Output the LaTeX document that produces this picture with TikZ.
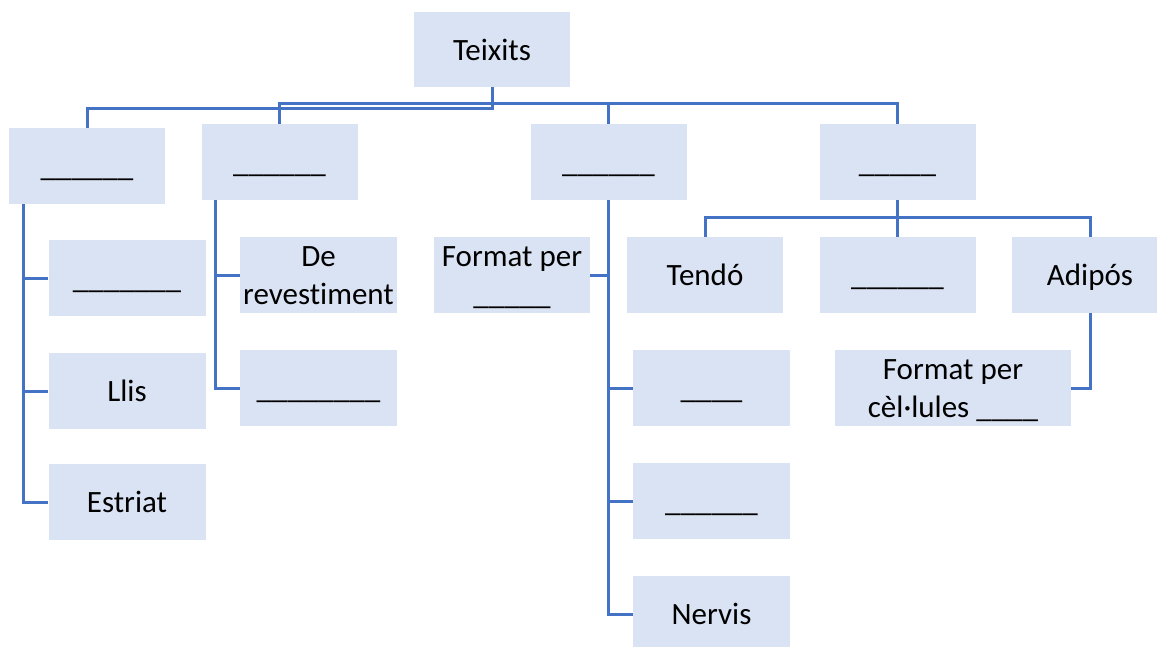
\documentclass[tikz,border=0pt]{standalone}
\usepackage{fontspec}
\setmainfont{Carlito}[Ligatures=NoCommon]

\newcommand{\wordfont}{\fontsize{31pt}{37.8pt}\selectfont}
\newcommand{\wordstrut}{\rule[-8.3pt]{0pt}{37.8pt}}
\definecolor{BoxBlue}{HTML}{DAE3F3}
\definecolor{LineBlue}{HTML}{4472C4}
\tikzstyle{tissue-box}=[rectangle, fill={BoxBlue}, inner sep=0pt, minimum width=157pt, minimum height=76pt,
  align=center, font=\wordfont, execute at begin node=\wordstrut, execute at end node=\wordstrut]
\tikzstyle{branch}=[draw={LineBlue}, line width=3pt]

\begin{document}
\begin{tikzpicture}
      \useasboundingbox (0pt, 0pt) rectangle (1157pt, -646pt);

      % top
      \node (box-teixits) at (492pt, -49.5pt) [tissue-box, minimum width=156pt, minimum height=75pt] {Teixits};

      % first level
      \node (box-a) at (87pt,    -166pt) [tissue-box, minimum width=156pt] {\_\_\_\_\_\_};
      \node (box-b) at (279.5pt, -162pt) [tissue-box, minimum width=156pt] {\_\_\_\_\_\_};
      \node (box-c) at (608.5pt, -162pt) [tissue-box, minimum width=156pt] {\_\_\_\_\_\_};
      \node (box-d) at (897.5pt, -162pt) [tissue-box, minimum width=156pt] {\_\_\_\_\_};

      % under a
      \node (box-a1) at (127pt, -278pt) [tissue-box] {\_\_\_\_\_\_\_};
      \node (box-a2) at (127pt, -391pt) [tissue-box] {Llis};
      \node (box-a3) at (127pt, -502pt) [tissue-box] {Estriat};

      % under b
      \node (box-b1) at (318.5pt, -275pt) [tissue-box] {\wordstrut De\\revestiment};
      \node (box-b2) at (318.5pt, -388pt) [tissue-box] {\_\_\_\_\_\_\_\_};

      % under c
      \node (box-c1) at (512pt,   -275pt) [tissue-box, minimum width=156pt] {\wordstrut Format per\\\_\_\_\_\_};
      \node (box-c2) at (711.5pt, -388pt) [tissue-box] {\_\_\_\_};
      \node (box-c3) at (711.5pt, -501pt) [tissue-box] {\_\_\_\_\_\_};
      \node (box-c4) at (711.5pt, -614pt) [tissue-box] {Nervis};

      % under d
      \node (box-d1) at (705pt,   -275pt) [tissue-box, minimum width=156pt] {Tendó};
      \node (box-d2) at (897.5pt, -275pt) [tissue-box, minimum width=156pt] {\_\_\_\_\_\_};
      \node (box-d3) at (1090pt,  -275pt) [tissue-box, minimum width=156pt] {Adipós};
      \node (box-d4) at (953pt,   -388pt) [tissue-box, minimum width=236pt] {\wordstrut Format per\\cèl·lules \_\_\_\_};

      % connectors
      \draw[branch] (box-teixits.south) -- ++(0pt, -21pt) -| (box-a.north);
      \draw[branch] (box-b.north) -- ++(0pt, 20pt) -| (box-d.north);
      \draw[branch] (box-c.north) -- ++(0pt, 20pt);

      \draw[branch] (box-a.south west) ++(15pt, 0pt) |- (box-a3.west);
      \foreach \leaf in {a1, a2}
            \draw[branch] (box-\leaf.west) -- ++(-24pt, 0pt);

      \draw[branch] (box-b.south west) ++(14pt, 0pt) |- (box-b2.west);
      \draw[branch] (box-b1.west) -- ++(-24pt, 0pt);

      \draw[branch] (box-c.south) |- (box-c4.west);
      \draw[branch] (box-c1.east) -- (box-c1.east -| box-c.south);
      \foreach \leaf in {c2, c3}
            \draw[branch] (box-\leaf.west) -- (box-\leaf.west -| box-c.south);

      \draw[branch] (box-d.south) -- (box-d2.north);
      \draw[branch] (box-d1.north) -- ++(0pt, 19pt) -| (box-d3.north);
      \draw[branch] (box-d3.south) |- (box-d4.east);
\end{tikzpicture}
\end{document}
